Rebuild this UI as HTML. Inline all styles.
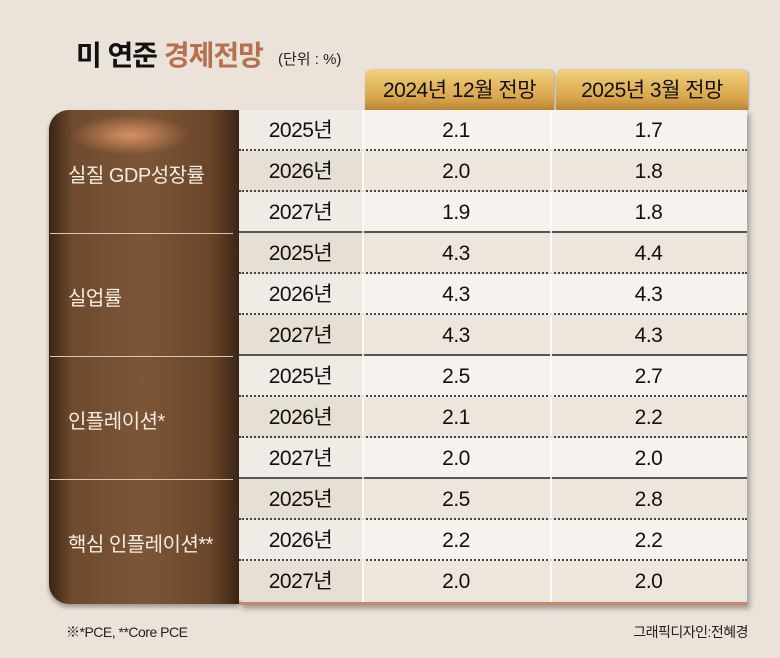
<!DOCTYPE html>
<html><head><meta charset="utf-8">
<style>
body{margin:0;width:780px;height:658px;background:#ebe3da;font-family:"Liberation Sans","Noto Sans CJK KR",sans-serif;position:relative;overflow:hidden}
.abs{position:absolute}
.title{left:76px;top:34px;font-size:28px;font-weight:bold;color:#111;letter-spacing:-1px}
.title span{color:#b5714d}
.unit{left:278px;top:48px;font-size:15px;color:#222}
.tab{top:70px;height:40px;background:linear-gradient(#f1cf7c,#d9a54a 70%,#b98535);border-radius:6px 6px 0 0;font-size:21px;color:#111;text-align:center;line-height:42px;letter-spacing:-0.5px;box-shadow:1px 0 2px rgba(0,0,0,.3)}
.panel{left:49px;top:110px;width:190px;height:494px;border-radius:20px 0 0 20px;background:linear-gradient(90deg,#3a2414 0%,#6e4a2e 12%,#7d5637 50%,#6a4529 85%,#3c2616 100%);box-shadow:0 3px 5px rgba(0,0,0,.35)}
.glow{left:70px;top:115px;width:120px;height:40px;border-radius:50%;background:radial-gradient(rgba(240,160,110,.8),rgba(200,120,70,0) 70%)}
.grp{left:68px;color:#f4ece2;font-size:20px;letter-spacing:-0.5px}
.tbl{left:239px;top:110px;width:508px;height:492px;box-shadow:3px 4px 5px rgba(0,0,0,.3);border-bottom:3px solid #c8876a}
.row{position:absolute;left:0;width:508px;height:41px;font-size:21px;color:#111;letter-spacing:-0.5px}
.cell{position:absolute;top:0;height:41px;line-height:41px;text-align:center}
.foot{font-size:14px;color:#222;top:622px;letter-spacing:-0.5px}
</style></head><body>
<div class="abs title">미 연준 <span>경제전망</span></div>
<div class="abs unit">(단위 : %)</div>
<div class="abs tab" style="left:365px;width:189px">2024년 12월 전망</div>
<div class="abs tab" style="left:556px;width:192px">2025년 3월 전망</div>
<div class="abs panel"></div>
<div class="abs glow"></div>
<div class="abs tbl" id="tbl"></div>
<div class="abs foot" style="left:66px">※*PCE, **Core PCE</div>
<div class="abs foot" style="right:32px">그래픽디자인:전혜경</div>
<script>
const groups=["실질 GDP성장률","실업률","인플레이션*","핵심 인플레이션**"];
const years=["2025년","2026년","2027년"];
const dec2024=[2.1,2.0,1.9,4.3,4.3,4.3,2.5,2.1,2.0,2.5,2.2,2.0];
const mar2025=[1.7,1.8,1.8,4.4,4.3,4.3,2.7,2.2,2.0,2.8,2.2,2.0];
const RH=41,T0=110;
const tbl=document.getElementById('tbl');
for(let i=0;i<12;i++){
  const r=document.createElement('div');
  
  
  r.className='row';
  r.style.top=(i*RH)+'px';
  r.style.background=(i%2===0)?'#f6f3ee':'#ede6dc';
  if(i%3!==2) r.style.borderBottom='2px dotted #444';
  else if(i<11) r.style.borderBottom='2px solid #555';
  r.style.height=(RH-2)+'px';
  const vals=[years[i%3],dec2024[i].toFixed(1),mar2025[i].toFixed(1)];
  const xs=[[0,123],[123,188],[311,197]];
  for(let k=0;k<3;k++){
    const c=document.createElement('div');
    
    
    c.className='cell';
    c.style.left=xs[k][0]+'px';c.style.width=xs[k][1]+'px';
    if(k===0)c.style.background='rgba(120,100,80,0.05)';
    if(k<2)c.style.borderRight='2px solid rgba(255,255,255,.8)';
    c.textContent=vals[k];
    r.appendChild(c);
  }
  tbl.appendChild(r);
}
groups.forEach((g,j)=>{
  const d=document.createElement('div');
  
  
  d.className='abs grp';
  d.style.top=(T0+j*3*RH+3*RH/2-13)+'px';
  d.textContent=g;
  document.body.appendChild(d);
  if(j>0){
    const l=document.createElement('div');
    
    
    l.className='abs';
    l.style.cssText='left:50px;width:183px;height:1px;background:#d9c6b3;top:'+(T0+j*3*RH)+'px';
    document.body.appendChild(l);
  }
});
</script>
</body></html>
